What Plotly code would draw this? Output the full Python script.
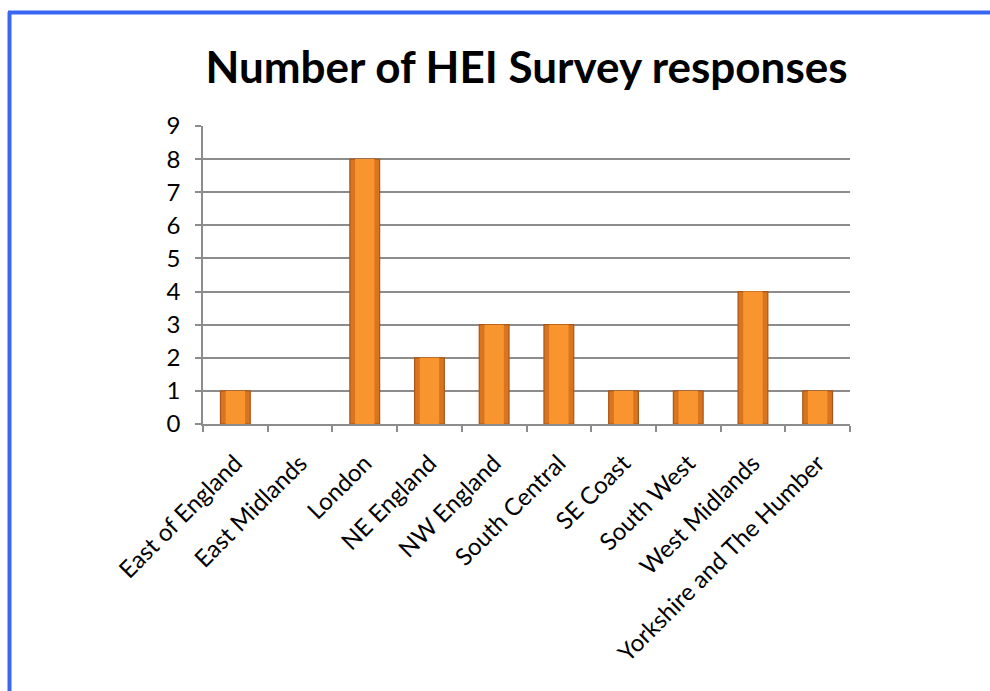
import plotly.graph_objects as go

categories = ["East of England", "East Midlands", "London", "NE England", "NW England",
              "South Central", "SE Coast", "South West", "West Midlands", "Yorkshire and The Humber"]
responses = [1, 0, 8, 2, 3, 3, 1, 1, 4, 1]
y_ticks = list(range(0, 10))

W, H = 990, 691
L, R, T, B = 203, 140, 126, 267
pw = W - L - R
ph = H - T - B

fig = go.Figure()
fig.add_trace(go.Bar(
    x=categories, y=responses,
    marker=dict(color="#D9741F",
                line=dict(color="#A9561A", width=[1.2 if v > 0 else 0 for v in responses])),
    width=0.46, hoverinfo="skip",
))
fig.add_trace(go.Bar(
    x=categories, y=responses,
    marker=dict(color="#F8952F", line=dict(width=0)),
    width=0.30,
))

def px_x(p):
    return (p - L) / pw

def px_y(p):
    return (H - B - p) / ph

blue = "#3A66F4"
fig.update_layout(
    width=W, height=H,
    margin=dict(l=L, r=R, t=T, b=B),
    paper_bgcolor="white", plot_bgcolor="white",
    barmode="overlay",
    font=dict(family="Lato", color="black", size=24),
    title=dict(text="<b>Number of HEI Survey responses</b>", xref="paper", x=0.5, xanchor="center",
               y=1 - 68 / H, yanchor="middle", font=dict(size=44, family="Lato", color="black")),
    showlegend=False,
    xaxis=dict(tickangle=-45, showgrid=False, showline=True, linecolor="#8C8C8C", linewidth=1.5,
               ticks="outside", tickson="boundaries", ticklen=6, tickcolor="#8C8C8C", tickwidth=1.5,
               tickfont=dict(size=24, family="Lato"), ticklabelstandoff=14),
    yaxis=dict(range=[0, 9], tickvals=y_ticks, showgrid=True, gridcolor="#8C8C8C", gridwidth=1.5,
               showline=True, linecolor="#8C8C8C", linewidth=1.5, ticks="outside", ticklen=6,
               tickcolor="#8C8C8C", tickwidth=1.5, zeroline=False,
               tickfont=dict(size=24, family="Lato"), ticklabelstandoff=10),
    shapes=[
        dict(type="line", xref="paper", yref="paper", x0=px_x(9.5), x1=px_x(9.5),
             y0=px_y(12), y1=px_y(H + 5), line=dict(color=blue, width=4), layer="above"),
        dict(type="line", xref="paper", yref="paper", x0=px_x(8), x1=px_x(W + 5),
             y0=px_y(12.5), y1=px_y(12.5), line=dict(color=blue, width=4), layer="above"),
    ],
)

fig.write_html("out.html")
